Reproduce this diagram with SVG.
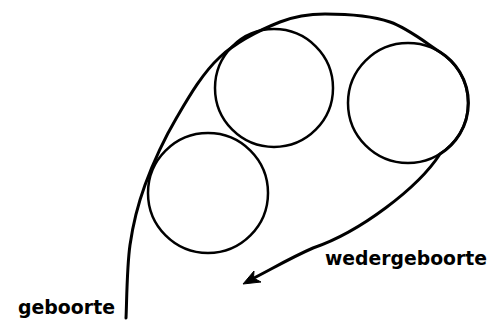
<svg xmlns="http://www.w3.org/2000/svg" width="491" height="320" viewBox="0 0 491 320">
<style>
.line{fill:none;stroke:#000;stroke-width:3;stroke-linecap:round;stroke-linejoin:round}
.node{fill:none;stroke:#000;stroke-width:2.5}
.lbl{font-family:"DejaVu Sans",sans-serif;font-weight:bold;font-size:19px;fill:#000}
</style>
<rect width="491" height="320" fill="#fff"/>
<g id="connectors">
<path class="line" d="M126,318 C126.7,305.8 126.8,267.2 130,245 C133.2,222.8 137.2,206.3 145,185 C152.8,163.7 164.5,138.3 177,117 C189.5,95.7 202.8,72.8 220,57 C237.2,41.2 261.7,29.2 280,22 C298.3,14.8 311.7,14 325,14 C345,14 371.7,15.7 390,22 C408.3,28.3 427.3,44 440,52 A60,60 0 0 1 440,154 C418,188 360,232 313,248 C290,258 270,270 252,279"/>
<polygon points="243,284 254,271 253.5,278 261,282" fill="#000" stroke="#000" stroke-width="1" stroke-linejoin="round"/>
</g>
<g id="circle-top"><circle class="node" cx="274" cy="88" r="59"/></g>
<g id="circle-right"><circle class="node" cx="408" cy="103" r="60"/></g>
<g id="circle-left"><circle class="node" cx="208" cy="193" r="60"/></g>
<g id="label-geboorte"><text class="lbl" x="18" y="314" textLength="97" lengthAdjust="spacingAndGlyphs">geboorte</text></g>
<g id="label-wedergeboorte"><text class="lbl" x="325" y="265" textLength="162" lengthAdjust="spacingAndGlyphs">wedergeboorte</text></g>
</svg>
